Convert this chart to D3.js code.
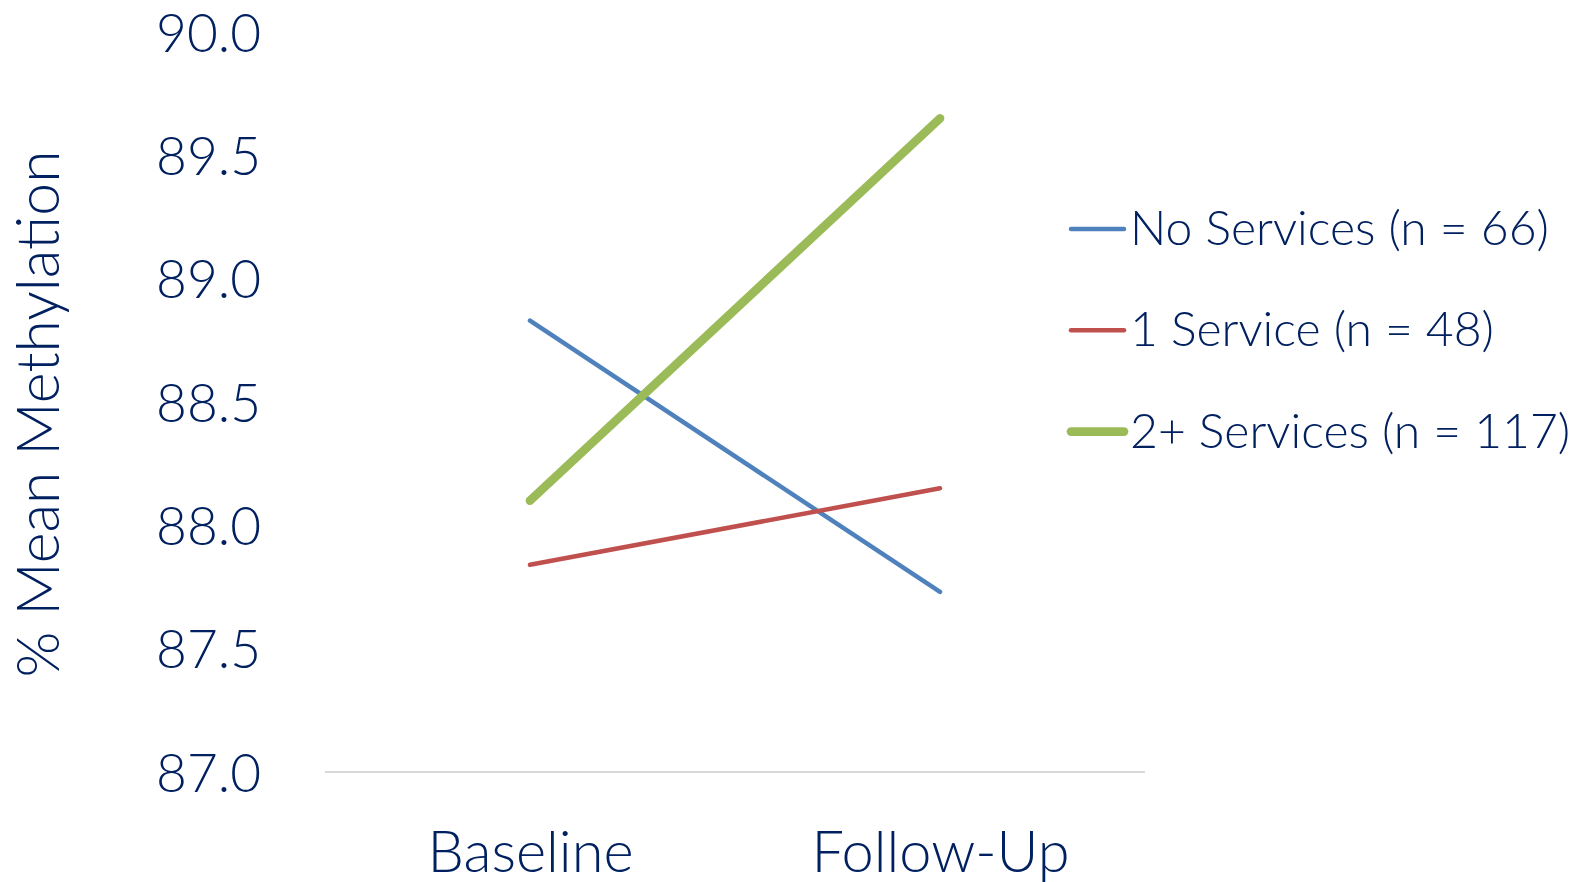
<!DOCTYPE html>
<html>
<head>
<meta charset="utf-8">
<script src="https://cdn.jsdelivr.net/npm/d3@7"></script>
<style>
  html, body { margin: 0; padding: 0; background: #ffffff; }
  svg { display: block; }
  text { font-family: Lato, "Open Sans", sans-serif; font-weight: 300; fill: #002060; }
</style>
</head>
<body>
<svg id="chart" width="1585" height="882"></svg>
<script>
// Time points on the x axis
const timepoints = ["Baseline", "Follow-Up"];

// Mean methylation (%) per service group at each time point
const noServices = [88.83, 87.73];
const oneService = [87.84, 88.15];
const twoPlusServices = [88.10, 89.65];

// Legend labels
const seriesNames = ["No Services (n = 66)", "1 Service (n = 48)", "2+ Services (n = 117)"];

// Y axis tick values
const yTicks = [87.0, 87.5, 88.0, 88.5, 89.0, 89.5, 90.0];

const series = [
  { name: seriesNames[0], values: noServices, color: "#4f81bd", width: 4.5 },
  { name: seriesNames[1], values: oneService, color: "#c0504d", width: 4.5 },
  { name: seriesNames[2], values: twoPlusServices, color: "#9bbb59", width: 8.7 }
];

const svg = d3.select("#chart");

const plot = { left: 325, right: 1145, top: 32, bottom: 772 };

// Scale a text's font size so that its rendered width equals the given width
function fitWidth(sel, width) {
  sel.each(function () {
    const node = this;
    const cur = parseFloat(node.getAttribute("font-size"));
    const w = node.getComputedTextLength();
    if (w > 0) node.setAttribute("font-size", (cur * width / w).toFixed(2));
  });
}

const x = d3.scalePoint()
  .domain(timepoints)
  .range([plot.left, plot.right])
  .padding(0.5);

const y = d3.scaleLinear()
  .domain([87, 90])
  .range([plot.bottom, plot.top]);

// Category axis baseline
svg.append("line")
  .attr("x1", plot.left).attr("x2", plot.right)
  .attr("y1", plot.bottom).attr("y2", plot.bottom)
  .attr("stroke", "#d9d9d9").attr("stroke-width", 2);

// Y axis labels
const yAxis = d3.axisLeft(y)
  .tickValues(yTicks)
  .tickFormat(d3.format(".1f"))
  .tickSize(0)
  .tickPadding(0);

const yG = svg.append("g")
  .attr("transform", `translate(261,0)`)
  .call(yAxis);
yG.select(".domain").remove();
yG.attr("font-family", null).attr("font-size", null);
yG.selectAll("text")
  .attr("font-size", 54)
  .attr("dy", "0.36em")
  .attr("fill", "#002060");
fitWidth(yG.selectAll("text").filter(d => d === 90), 105);
const tickSize = yG.selectAll("text").filter(d => d === 90).attr("font-size");
yG.selectAll("text").attr("font-size", tickSize);

// X axis labels
const xAxis = d3.axisBottom(x).tickSize(0).tickPadding(0);
const xG = svg.append("g")
  .attr("transform", `translate(0,872)`)
  .call(xAxis);
xG.select(".domain").remove();
xG.attr("font-family", null).attr("font-size", null);
xG.selectAll("text")
  .attr("font-size", 55)
  .attr("dy", 0)
  .attr("y", 0)
  .attr("fill", "#002060");
fitWidth(xG.selectAll("text").filter(d => d === "Baseline"), 206);
const xSize = xG.selectAll("text").filter(d => d === "Baseline").attr("font-size");
xG.selectAll("text").attr("font-size", xSize);

// Y axis title
const title = svg.append("text")
  .attr("transform", `translate(59,${(plot.top + plot.bottom) / 2 + 12}) rotate(-90)`)
  .attr("text-anchor", "middle")
  .attr("font-size", 58)
  .text("% Mean Methylation");
fitWidth(title, 527);

// Series lines
const line = d3.line()
  .x((d, i) => x(timepoints[i]))
  .y(d => y(d));

svg.selectAll("path.series")
  .data(series)
  .join("path")
  .attr("class", "series")
  .attr("d", d => line(d.values))
  .attr("fill", "none")
  .attr("stroke", d => d.color)
  .attr("stroke-width", d => d.width)
  .attr("stroke-linecap", "round");

// Legend
const legend = svg.append("g").attr("transform", "translate(1071,229)");
const rows = legend.selectAll("g")
  .data(series)
  .join("g")
  .attr("transform", (d, i) => `translate(0,${i * 101.3})`);
rows.append("line")
  .attr("x1", 0).attr("x2", 53)
  .attr("y1", 0).attr("y2", 0)
  .attr("stroke", d => d.color)
  .attr("stroke-width", d => d.width)
  .attr("stroke-linecap", "round");
const legendText = rows.append("text")
  .attr("x", 59)
  .attr("y", 16)
  .attr("font-size", 47)
  .text(d => d.name);
fitWidth(legendText.filter((d, i) => i === 0), 419);
const legSize = legendText.filter((d, i) => i === 0).attr("font-size");
legendText.attr("font-size", legSize);
</script>
</body>
</html>
